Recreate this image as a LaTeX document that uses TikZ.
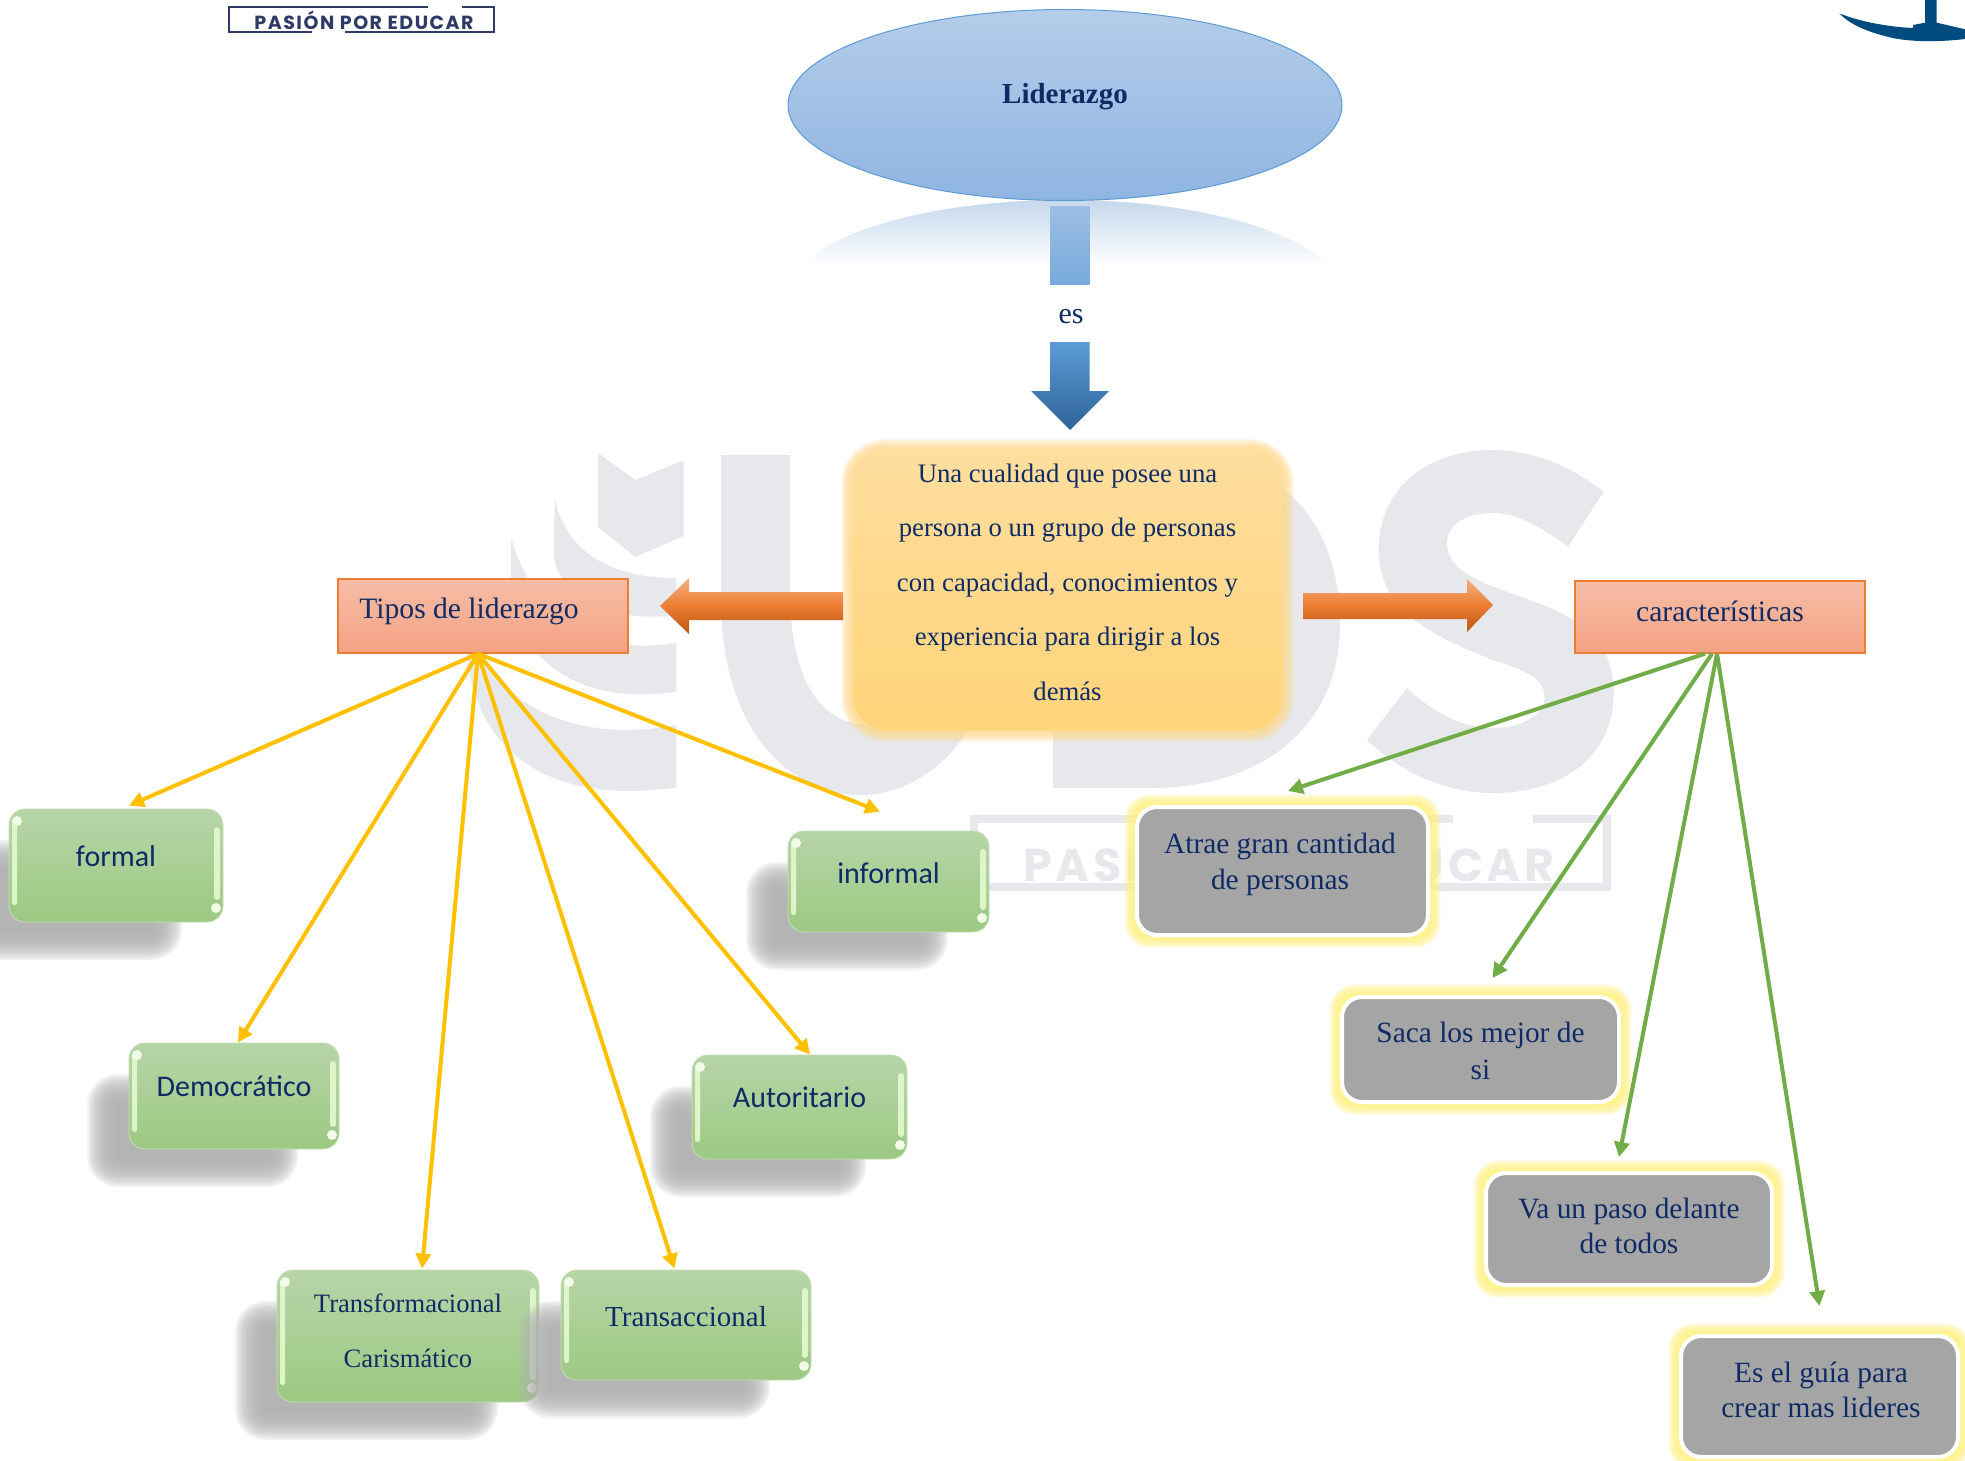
\documentclass[tikz,border=0pt]{standalone}
\usepackage{fontspec}
\setmainfont{Liberation Serif}
\newfontfamily\calibrilike{Carlito}
\newfontfamily\logofont[LetterSpace=8]{Poppins}
\usetikzlibrary{shapes.geometric,arrows.meta,calc}
\definecolor{ink}{HTML}{0F2B66}
\definecolor{wm}{HTML}{E7E8EC}
\definecolor{logoink}{HTML}{2F3A66}
\definecolor{B5top}{HTML}{B7D5A8}\definecolor{B5bot}{HTML}{9CC982}
\definecolor{gedge}{HTML}{C5DFB5}
\definecolor{greyfill}{HTML}{A5A5A5}\definecolor{glowy}{HTML}{FFF38A}
\definecolor{ED7}{HTML}{ED7D31}\definecolor{F6top}{HTML}{F6BDA6}\definecolor{F6bot}{HTML}{F4A283}
\definecolor{gold}{HTML}{FFC000}\definecolor{leaf}{HTML}{70AD47}
\definecolor{F4B}{HTML}{F4B183}\definecolor{BF5}{HTML}{B85515}
\definecolor{glossc}{HTML}{DDF5C8}\definecolor{glossd}{HTML}{F2FCE8}
\definecolor{anchorblue}{HTML}{004B7F}
\definecolor{refl}{HTML}{C5D8EC}
\definecolor{elltop}{HTML}{B4CDEA}\definecolor{ellbot}{HTML}{8FB5E1}\definecolor{elledge}{HTML}{5B9BD5}
\definecolor{ba}{HTML}{9DBDE3}\definecolor{bb}{HTML}{78ABDC}\definecolor{bc}{HTML}{5B9BD5}\definecolor{bd}{HTML}{2E6399}
\definecolor{cta}{HTML}{FFDE9E}\definecolor{ctb}{HTML}{FFD479}\definecolor{ctglow}{HTML}{FFDB90}
\definecolor{shadowgrey}{HTML}{B2B2B2}
\newcommand\fsz[2]{\fontsize{#1}{#2}\selectfont}
\newcommand\lifted[2]{\raisebox{#1pt}[\height][\depth]{\begin{tabular}{@{}c@{}}#2\end{tabular}}}
% blurred rounded rectangle: x0 y0 x1 y1 radius blur colour opacity
\newcommand\softrect[8]{%
  \foreach \i in {0,...,15}{%
    \pgfmathsetmacro\dd{#6*(1-\i/7.5)}%
    \pgfmathsetmacro\rr{max(#5+\dd,1)}%
    \fill[#7,opacity=#8,rounded corners=\rr pt] (#1-\dd,#2-\dd) rectangle (#3+\dd,#4+\dd);
  }}
% green glossy box: name x0 y0 x1 y1 font lift text
\newcommand\greenbox[8]{%
  \softrect{#2-27}{#3+46}{#4-56}{#5+23}{16}{15}{shadowgrey}{0.16}
  \pgfmathsetmacro\wdd{#4-#2}\pgfmathsetmacro\htt{#5-#3}%
  \node[gbox,minimum width=\wdd pt,minimum height=\htt pt,font=#6] (#1) at ({(#2+#4)/2},{(#3+#5)/2}) {\lifted{#7}{#8}};
  \fill[glossbar,rounded corners=2.4pt] (#2+3,#3+11) rectangle (#2+8,#5-17);
  \fill[glossbar,rounded corners=3pt] (#4-9,#3+18) rectangle (#4-3,#5-22);
  \fill[glossdot] (#2+8,#3+12) circle (5);
  \fill[glossdot] (#4-7,#5-14) circle (5);
}
% grey box with white ring and yellow glow: name x0 y0 x1 y1 lift text baseline
\newcommand\greybox[8]{%
  \softrect{#2-9}{#3-9}{#4+9}{#5+9}{20}{6}{glowy}{0.15}
  \pgfmathsetmacro\wdd{#4-#2+4}\pgfmathsetmacro\htt{#5-#3+4}%
  \node[ybox,minimum width=\wdd pt,minimum height=\htt pt,font=\fsz{29.4}{#8}] (#1) at ({(#2+#4)/2},{(#3+#5)/2}) {\lifted{#6}{#7}};
}
\tikzset{
  x=1pt,y=-1pt,
  gbox/.style={draw=gedge,line width=.8pt,rounded corners=16pt,inner sep=0pt,top color=B5top,bottom color=B5bot,text=ink,align=center},
  ybox/.style={draw=white,line width=4pt,rounded corners=20pt,fill=greyfill,inner sep=0pt,text=ink,align=center},
  rbox/.style={draw=ED7,line width=1.4pt,inner sep=0pt,top color=F6top,bottom color=F6bot,text=ink,font=\fsz{29.6}{36}},
  yellowarrow/.style={draw=gold,line width=4pt,-{Triangle[length=15pt,width=15pt]}},
  greenarrow/.style={draw=leaf,line width=4pt,-{Triangle[length=15pt,width=15pt]}},
  orangearrow/.style={top color=F4B,bottom color=BF5,middle color=ED7},
  glossbar/.style={fill=glossc},
  glossdot/.style={fill=glossd},
}
\begin{document}
\begin{tikzpicture}
\useasboundingbox (0,0) rectangle (1965,1461);
\fill[white] (0,0) rectangle (1965,1461);

%% watermark
\fill[wm] (598,453) -- (635.5,480) -- (683.7,460) -- (683.7,536) -- (635.5,557) -- (598,527) -- cycle;
\fill[wm] (554.7,498) .. controls (562,535) and (590,578) .. (676.3,578) -- (676.3,615.7)
  .. controls (610,622) and (560,600) .. (553.9,556) -- cycle;
\fill[wm] (511,537) .. controls (525,590) and (570,660) .. (676.3,643) -- (676.3,691.7)
  .. controls (590,705) and (515,670) .. (511,580) -- cycle;
\fill[wm] (466,640) -- (480,656) .. controls (505,700) and (570,745) .. (676.3,725) -- (676.3,787.3)
  .. controls (560,805) and (470,760) .. (466,640) -- cycle;
\fill[wm] (721,455) -- (790,455) -- (790,590) .. controls (790,680) and (820,725) .. (870,725)
  .. controls (920,725) and (940,680) .. (940,590) -- (940,455) -- (1000,455) -- (1000,600)
  .. controls (1000,730) and (930,795) .. (860,795) .. controls (790,795) and (721,730) .. (721,600) -- cycle;
\fill[wm] (1053,788) -- (1150,788) .. controls (1270,788) and (1340,720) .. (1340,625)
  .. controls (1340,540) and (1300,470) .. (1200,455) -- (1053,455) -- cycle;
\fill[wm] (1603.6,491.7) .. controls (1570,465) and (1530,450) .. (1492.9,450)
  .. controls (1425,450) and (1378.6,490) .. (1378.6,550)
  .. controls (1378.6,610) and (1430,635) .. (1492.9,660)
  .. controls (1530,672) and (1544.6,680) .. (1544.6,696.7)
  .. controls (1544.6,716) and (1520,728) .. (1492.9,728)
  .. controls (1460,728) and (1430,710) .. (1407,688) -- (1367,740)
  .. controls (1400,772) and (1445,793) .. (1492.9,793)
  .. controls (1565,793) and (1613.6,755) .. (1613.6,693)
  .. controls (1613.6,640) and (1580,618) .. (1530,600)
  .. controls (1480,582) and (1447,572) .. (1447,543)
  .. controls (1447,525) and (1465,513) .. (1492.9,513)
  .. controls (1520,513) and (1545,530) .. (1568,546.7) -- cycle;
\draw[wm,line width=8pt] (1453,819) -- (974,819) -- (974,886.5) -- (1169,886.5);
\draw[wm,line width=8pt] (1254,886.5) -- (1607,886.5) -- (1607,819) -- (1533,819);
\node[text=wm,inner sep=0pt,font=\logofont\bfseries\fontsize{46}{50}\selectfont] (wmtext) at (1289,859) {PASIÓN POR EDUCAR};

%% corner logos
\draw[logoink,line width=2.5pt] (428,7) -- (229,7) -- (229,32) -- (312,32);
\draw[logoink,line width=2.5pt] (345,32) -- (494,32) -- (494,7) -- (462,7);
\node[text=logoink,inner sep=0pt,font=\logofont\bfseries\fontsize{19}{20}\selectfont] (logotext) at (364,20) {PASIÓN POR EDUCAR};
\fill[anchorblue] (1839.3,13.3) .. controls (1860,22) and (1890,27) .. (1913,28) -- (1913,25) -- (1925,22.7) -- (1925,0) -- (1936.7,0) -- (1936.7,22.7) -- (1946.7,25) -- (1965,29.3) -- (1965,39)
  .. controls (1940,42) and (1915,42) .. (1895,38.5) .. controls (1870,33) and (1850,25) .. (1839.3,13.3) -- cycle;

%% title ellipse, reflection
\begin{scope}
  \clip (1065,295) ellipse [x radius=277,y radius=95];
  \shade[top color=refl,bottom color=white] (780,200) rectangle (1350,265);
\end{scope}
\node[ellipse,draw=elledge,line width=1pt,top color=elltop,bottom color=ellbot,minimum width=554pt,minimum height=191pt,inner sep=0pt,text=ink,font=\bfseries\fsz{29}{36}] (lider) at (1065,105) {\lifted{8.5}{Liderazgo}};

%% blue down arrow, in two pieces around the label
\shade[top color=ba,bottom color=bb] (1050,206) rectangle (1089.5,284);
\node[text=ink,inner sep=0pt,font=\fsz{30}{32}] (es) at (1071,316.5) {es};
\shade[top color=bc,bottom color=bd] (1050,342) -- (1089.5,342) -- (1089.5,391) -- (1109,391) -- (1070,430) -- (1031,391) -- (1050,391) -- cycle;

%% central box
\softrect{849}{447}{1286}{734}{36}{8}{ctglow}{0.16}
\node[draw=none,rounded corners=34pt,top color=cta,bottom color=ctb,minimum width=429pt,minimum height=279pt,inner sep=0pt,text=ink,align=center,font=\fsz{26.7}{54.5}] (central) at (1067.5,590.5)
 {\lifted{10.3}{Una cualidad que posee una\\persona o un grupo de personas\\con capacidad, conocimientos y\\experiencia para dirigir a los\\demás}};

%% orange arrows
\shade[orangearrow] (843,592) -- (689,592) -- (689,578) -- (660,606) -- (689,634) -- (689,620) -- (843,620) -- cycle;
\shade[orangearrow] (1303,593) -- (1467,593) -- (1467,579) -- (1493,605) -- (1467,632) -- (1467,619) -- (1303,619) -- cycle;

%% header boxes
\node[rbox,minimum width=290pt,minimum height=74pt] (tipos) at (483,616) {\hspace{-28pt}\lifted{4.5}{Tipos de liderazgo}};
\node[rbox,minimum width=290pt,minimum height=72pt] (carac) at (1720,617) {\lifted{3}{características}};

%% green boxes
\greenbox{formal}{9}{809}{223}{922}{\calibrilike\fsz{30}{36}}{6.5}{formal}
\greenbox{democ}{129}{1043}{339}{1149}{\calibrilike\fsz{30}{36}}{6.5}{Democrático}
\greenbox{informal}{788}{831}{989}{932}{\calibrilike\fsz{30}{36}}{5.5}{informal}
\greenbox{autor}{692}{1055}{907}{1159}{\calibrilike\fsz{30}{36}}{6.5}{Autoritario}
\greenbox{transf}{277}{1270}{539}{1402}{\fsz{26.6}{55}}{7}{Transformacional\\Carismático}
\greenbox{transa}{561}{1270}{811}{1380}{\fsz{29}{36}}{6}{Transaccional}

%% grey boxes
\greybox{atrae}{1139}{809}{1426}{933}{7}{\hspace*{-5pt}Atrae gran cantidad\\\hspace*{-5pt}de personas}{36}
\greybox{saca}{1344}{999}{1617}{1100}{-4}{Saca los mejor de\\si}{37}
\greybox{paso}{1488}{1175}{1770}{1283}{0.5}{Va un paso delante\\de todos}{35}
\greybox{guia}{1683}{1338}{1956}{1455}{4}{\hspace*{3pt}Es el guía para\\\hspace*{3pt}crear mas lideres}{35}

%% connectors
\draw[yellowarrow] ([xshift=-5pt]tipos.south) -- ([xshift=13pt,yshift=3pt]formal.north);
\draw[yellowarrow] ([xshift=-5pt]tipos.south) -- ([xshift=4pt]democ.north);
\draw[yellowarrow] ([xshift=-5pt]tipos.south) -- ([xshift=14pt,yshift=1pt]transf.north);
\draw[yellowarrow] ([xshift=-5pt]tipos.south) -- ([xshift=-11.5pt,yshift=1pt]transa.north);
\draw[yellowarrow] ([xshift=-5pt]tipos.south) -- ([xshift=10.5pt]autor.north);
\draw[yellowarrow] ([xshift=-5pt]tipos.south) -- ([xshift=-8.5pt,yshift=19pt]informal.north);
\draw[greenarrow] ([xshift=-15pt]carac.south) -- ([xshift=5.5pt,yshift=14pt]atrae.north);
\draw[greenarrow] ([xshift=-8pt]carac.south) -- ([xshift=12pt,yshift=17pt]saca.north);
\draw[greenarrow] ([xshift=-3pt]carac.south) -- ([xshift=-10pt,yshift=14pt]paso.north);
\draw[greenarrow] ([xshift=-3pt]carac.south) -- ([yshift=28pt]guia.north);
\end{tikzpicture}
\end{document}
